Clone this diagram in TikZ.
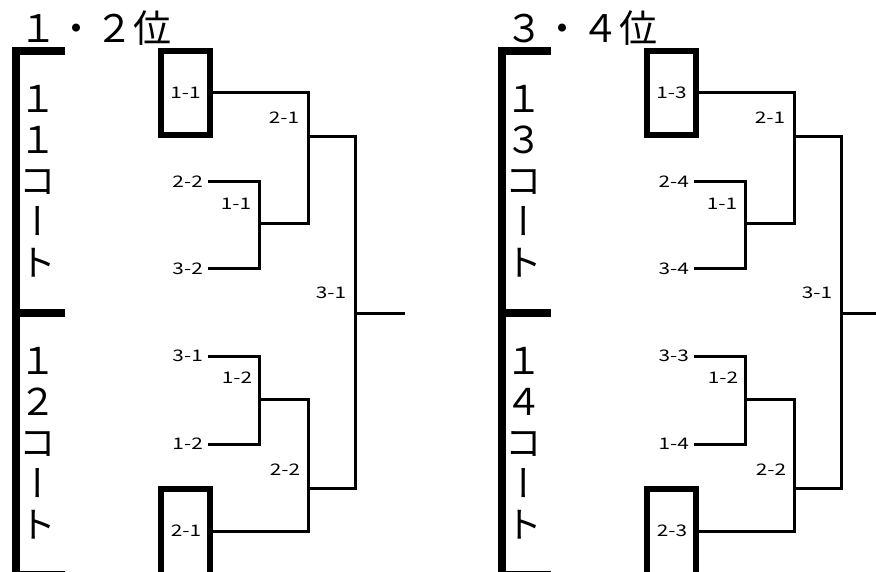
\documentclass[tikz,border=0pt]{standalone}
\usepackage{fontspec}
\newfontfamily\jp{Noto Sans CJK JP}
\newfontfamily\jpw[FakeStretch=1.3]{Noto Sans CJK JP}
\newfontfamily\jpv[RawFeature=+vert]{Noto Sans CJK JP}
\begin{document}
\begin{tikzpicture}[x=1pt,y=-1pt,
  wire/.style={line width=3pt},
  boxline/.style={draw,line width=6pt,minimum width=49pt,inner sep=0pt,font=\jpw\fontsize{16}{16}\selectfont},
  leaf/.style={anchor=east,inner xsep=5pt,inner ysep=0pt,font=\jpw\fontsize{16}{16}\selectfont},
  lab/.style={inner sep=0pt,font=\jpw\fontsize{16}{16}\selectfont},
  titletext/.style={anchor=base west,inner sep=0pt,font=\jp\fontsize{38}{38}\selectfont},
  court/.style={inner sep=0pt,align=center,font=\jpv\fontsize{37}{41}\selectfont},
  bracket/.style={line width=8pt}
]
\useasboundingbox (0,0) rectangle (876,572);
\foreach \s/\p/\ta/\tb/\tc/\td/\te/\tf/\tg/\th/\ti/\tj/\tk/\ttl/\cta/\ctb in {
  0/L/1-1/2-1/2-2/1-1/3-2/3-1/3-1/1-2/1-2/2-2/2-1/１・２位/１\\１\\コ\\ー\\ト/１\\２\\コ\\ー\\ト,
  486/R/1-3/2-1/2-4/1-1/3-4/3-1/3-3/1-2/1-4/2-2/2-3/３・４位/１\\３\\コ\\ー\\ト/１\\４\\コ\\ー\\ト}{
\begin{scope}[xshift=\s pt]
  \node[titletext] (\p-title) at (19,43) {\ttl};
  \draw[bracket] (65,51) -- (16,51) -- (16,580);
  \draw[bracket] (16,312.5) -- (65,312.5);
  \draw[bracket] (16,575) -- (65,575);
  \node[court] (\p-ca) at (38,181) {\cta};
  \node[court] (\p-cb) at (38,443) {\ctb};
  % boxes
  \node[boxline,minimum height=84pt] (\p-boxA) at (185.5,93) {\ta};
  \node[boxline,minimum height=100pt] (\p-boxB) at (185.5,539) {};
  \node[lab] (\p-lk) at (186,531) {\tk};
  % junctions
  \coordinate (\p-c11) at (259,224);
  \coordinate (\p-c21) at (308,137);
  \coordinate (\p-c12) at (259,399);
  \coordinate (\p-c22) at (308,488);
  \coordinate (\p-c31) at (355,313);
  \coordinate (\p-end) at (405,313);
  % leaves
  \node[leaf] (\p-a2) at (208,182) {\tc};
  \node[leaf] (\p-a3) at (208,269) {\te};
  \node[leaf] (\p-b1) at (208,356) {\tg};
  \node[leaf] (\p-b2) at (208,444) {\ti};
  % round labels
  \node[lab] (\p-r21) at (284,118) {\tb};
  \node[lab] (\p-r11) at (236,204) {\td};
  \node[lab] (\p-r12) at (237,378) {\th};
  \node[lab] (\p-r22) at (285,470) {\tj};
  \node[lab] (\p-r31) at (331,293) {\tf};
  % wires
  \draw[wire] (\p-a2.east) -| (\p-c11) |- (\p-a3.east);
  \draw[wire] (\p-boxA.east) -| (\p-c21) |- (\p-c11);
  \draw[wire] (\p-b1.east) -| (\p-c12) |- (\p-b2.east);
  \draw[wire] (\p-c12) -| (\p-c22) |- (\p-lk.east -| \p-boxB.east);
  \draw[wire] (\p-c21) -| (\p-c31) |- (\p-c22);
  \draw[wire] (\p-c31) -- (\p-end);
\end{scope}
}
\end{tikzpicture}
\end{document}
